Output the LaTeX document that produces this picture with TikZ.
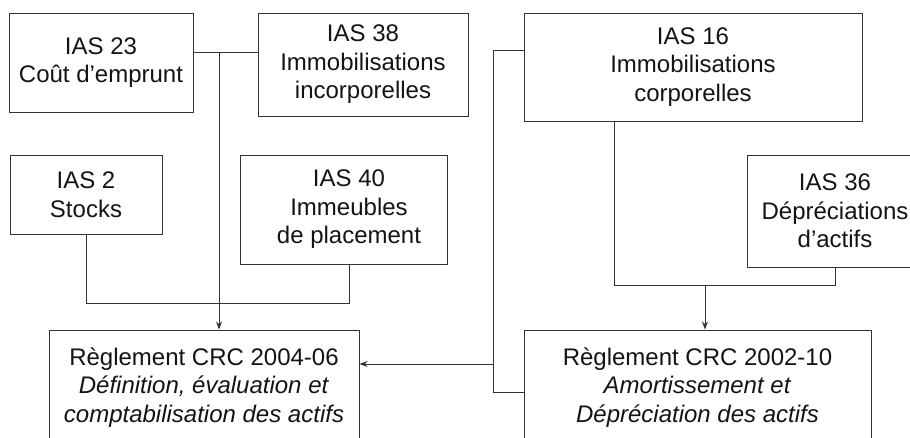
\documentclass[tikz,border=0pt]{standalone}
\usepackage{fontspec}
\setmainfont{Liberation Sans}
\usetikzlibrary{arrows.meta}
\begin{document}
\begin{tikzpicture}[x=1pt,y=-1pt,
  box/.style={draw=black!80, line width=1pt, rectangle, inner sep=0pt, align=center,
    font=\fontsize{24}{28.5}\selectfont, text=black!92},
  txt/.style={inner sep=0pt, align=center, font=\fontsize{24}{28.5}\selectfont, text=black!92},
  conn/.style={draw=black!80, line width=1pt},
  arr/.style={conn, -{Stealth[length=8pt,width=6pt]}}]
\useasboundingbox (0,0) rectangle (910,437);
\fill[white] (0,0) rectangle (910,437);

\node[box, minimum width=184pt, minimum height=99pt] (ias23) at (101,62.5) {IAS 23\\Coût d’emprunt};
\node[box, minimum width=210pt, minimum height=103pt] (ias38) at (363,64.5) {IAS 38\\Immobilisations\\incorporelles};
\node[box, minimum width=338pt, minimum height=108pt] (ias16) at (693,67) {IAS 16\\Immobilisations\\corporelles};
\node[box, minimum width=152pt, minimum height=79pt] (ias2) at (86,194.5) {IAS 2\\Stocks};
\node[box, minimum width=207pt, minimum height=109pt] (ias40) at (343.5,209.5) {};
\node[txt] (ias40t) at (349,209.5) {IAS 40\\Immeubles\\de placement};
\node[box, minimum width=176pt, minimum height=112pt] (ias36) at (835,211) {IAS 36\\Dépréciations\\d’actifs};
\node[box, minimum width=310pt, minimum height=115pt] (crc04) at (204,387.5) {Règlement CRC 2004-06\\\textit{Définition, évaluation et}\\\textit{comptabilisation des actifs}};
\node[box, minimum width=347pt, minimum height=115pt] (crc02) at (697.5,387.5) {Règlement CRC 2002-10\\\textit{Amortissement et}\\\textit{Dépréciation des actifs}};

% IAS 23 / IAS 38 -> CRC 2004-06
\coordinate (j1) at (219,52);
\draw[conn] (ias23.east |- j1) -- (ias38.west |- j1);
\draw[arr] (j1) -- (crc04.north -| j1);

% IAS 2 / IAS 40
\coordinate (j2) at (86,303);
\coordinate (j3) at (349,303);
\draw[conn] (ias2.south) -- (j2) -- (j3) -- (j3 |- ias40.south);

% IAS 16 left branch
\coordinate (k1) at (493,50);
\coordinate (k2) at (493,364);
\coordinate (k3) at (493,392);
\draw[conn] (ias16.west |- k1) -- (k1) -- (k3) -- (crc02.west |- k3);
\draw[arr] (k2) -- (crc04.east |- k2);

% IAS 16 / IAS 36 -> CRC 2002-10
\coordinate (m1) at (614,285);
\coordinate (m2) at (835,285);
\coordinate (m3) at (705,285);
\draw[conn] (ias16.south -| m1) -- (m1) -- (m2) -- (m2 |- ias36.south);
\draw[arr] (m3) -- (crc02.north -| m3);
\end{tikzpicture}
\end{document}
